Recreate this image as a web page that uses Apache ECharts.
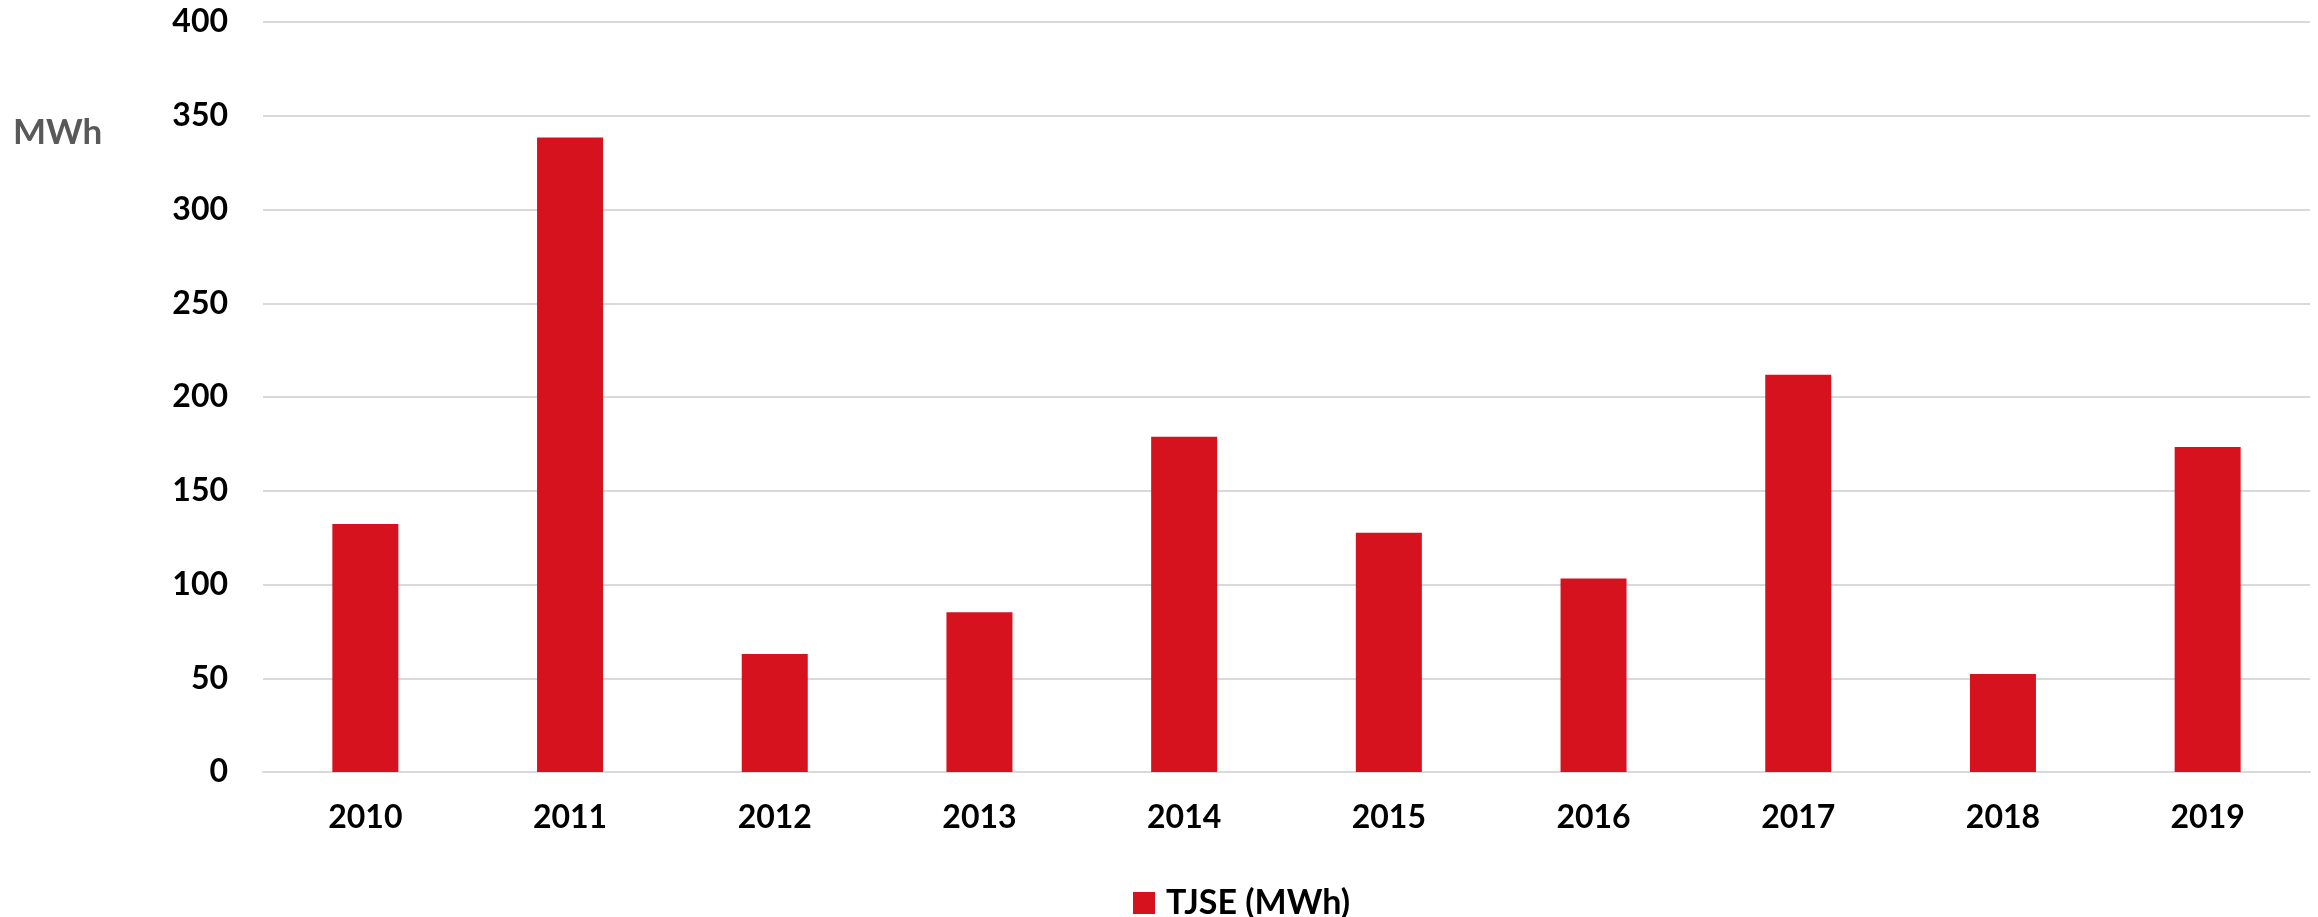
<!DOCTYPE html>
<html>
<head>
<meta charset="utf-8">
<script src="https://cdn.jsdelivr.net/npm/echarts@6/dist/echarts.min.js"></script>
<style>
  html, body { margin: 0; padding: 0; background: #fff; }
  #chart { width: 2318px; height: 917px; }
</style>
</head>
<body>
<div id="chart"></div>
<script>
const years = ['2010', '2011', '2012', '2013', '2014', '2015', '2016', '2017', '2018', '2019']
const tjse = [132.3, 338.4, 62.9, 85.2, 178.8, 127.6, 103.2, 211.9, 52.3, 173.3]
const seriesName = 'TJSE (MWh)'
const unitLabel = 'MWh'

const font = 'Lato, "Open Sans", sans-serif'
const myChart = echarts.init(document.getElementById('chart'))

const option = {
    animation: false,
    backgroundColor: '#ffffff',
    title: {
        text: unitLabel,
        left: 8,
        top: 110,
        textStyle: {
            fontFamily: font,
            fontSize: 35,
            fontWeight: 'bold',
            color: '#595959'
        }
    },
    legend: {
        data: [seriesName],
        left: 1128,
        top: 881,
        itemWidth: 22,
        itemHeight: 22,
        icon: 'rect',
        textStyle: {
            fontFamily: font,
            fontSize: 34,
            fontWeight: 'bold',
            color: '#000000',
            padding: [0, 0, 0, 6] // gap between the square and the text
        }
    },
    grid: {
        left: 263,
        right: 8,
        top: 22,
        bottom: 145,
        containLabel: false
    },
    xAxis: {
        type: 'category',
        data: years,
        axisTick: { show: false },
        axisLine: { lineStyle: { color: '#d9d9d9', width: 2 } },
        axisLabel: {
            margin: 30,
            fontFamily: font,
            fontSize: 32,
            fontWeight: 'bold',
            color: '#000000'
        }
    },
    yAxis: {
        type: 'value',
        min: 0,
        max: 400,
        interval: 50,
        axisLine: { show: false },
        axisTick: { show: false },
        splitLine: { lineStyle: { color: '#d9d9d9', width: 2 } },
        axisLabel: {
            margin: 35,
            fontFamily: font,
            fontSize: 32,
            fontWeight: 'bold',
            color: '#000000'
        }
    },
    series: [
        {
            name: seriesName,
            type: 'bar',
            data: tjse,
            barWidth: 66,
            itemStyle: { color: '#d7121f' }
        }
    ]
}

myChart.setOption(option)
</script>
</body>
</html>
